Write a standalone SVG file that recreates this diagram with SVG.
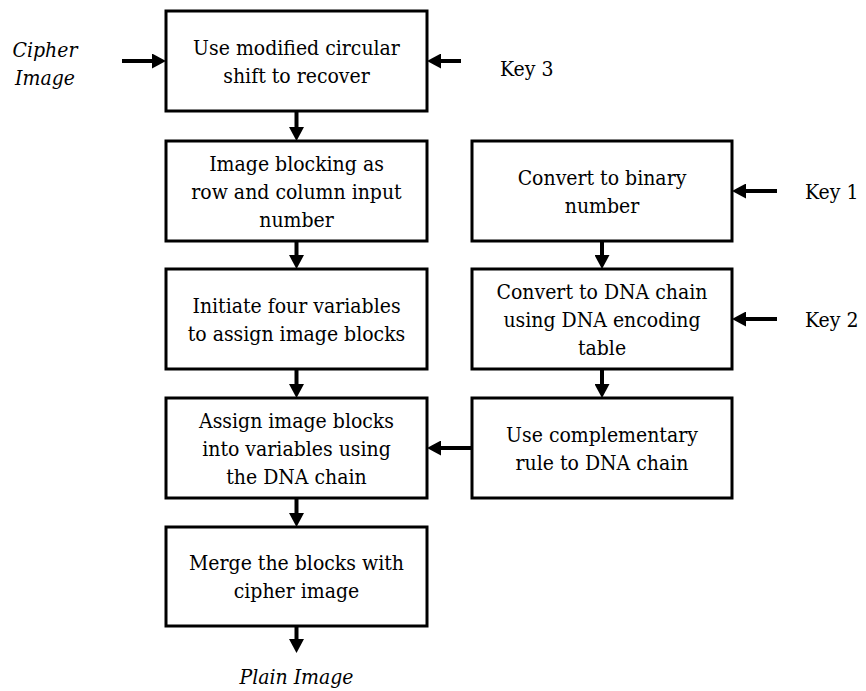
<svg xmlns="http://www.w3.org/2000/svg" width="866" height="691" viewBox="0 0 866 691" font-family="'DejaVu Serif Condensed','DejaVu Serif',serif" font-size="21">
<style>
.box{fill:#fff;stroke:#000;stroke-width:3}
.c{stroke:#000;stroke-width:4;fill:none;marker-end:url(#ah)}
</style>
<defs>
<marker id="ah" markerUnits="userSpaceOnUse" markerWidth="14" markerHeight="15" refX="2" refY="7.5" orient="auto">
<path d="M0,0 L14,7.5 L0,15 z" fill="#000"/>
</marker>
</defs>
<rect width="866" height="691" fill="#fff"/>
<g id="connectors">
<line class="c" x1="122" y1="61" x2="154" y2="61"/>
<line class="c" x1="461" y1="61" x2="439" y2="61"/>
<line class="c" x1="296.5" y1="111" x2="296.5" y2="129"/>
<line class="c" x1="296.5" y1="241" x2="296.5" y2="257"/>
<line class="c" x1="296.5" y1="369" x2="296.5" y2="386"/>
<line class="c" x1="296.5" y1="498" x2="296.5" y2="515"/>
<line class="c" x1="296.5" y1="626" x2="296.5" y2="641"/>
<line class="c" x1="602" y1="241" x2="602" y2="257"/>
<line class="c" x1="602" y1="369" x2="602" y2="386"/>
<line class="c" x1="777" y1="191" x2="744" y2="191"/>
<line class="c" x1="777" y1="319" x2="744" y2="319"/>
<line class="c" x1="472" y1="448" x2="439" y2="448"/>
</g>
<g id="cipher-image" font-style="italic" text-anchor="middle"><text x="45" y="57">Cipher</text><text x="45" y="85">Image</text></g>
<g id="key3"><text x="500" y="76">Key 3</text></g>
<g id="key1"><text x="805" y="199">Key 1</text></g>
<g id="key2"><text x="805" y="327">Key 2</text></g>
<g id="plain-image" font-style="italic" text-anchor="middle"><text x="296.5" y="684">Plain Image</text></g>
<g text-anchor="middle">
<g id="n1"><rect class="box" x="166" y="11" width="261" height="100"/><text x="296.5" y="55">Use modified circular</text><text x="296.5" y="83">shift to recover</text></g>
<g id="n2"><rect class="box" x="166" y="141" width="261" height="100"/><text x="296.5" y="171">Image blocking as</text><text x="296.5" y="199">row and column input</text><text x="296.5" y="227">number</text></g>
<g id="n3"><rect class="box" x="166" y="269" width="261" height="100"/><text x="296.5" y="313">Initiate four variables</text><text x="296.5" y="341">to assign image blocks</text></g>
<g id="n4"><rect class="box" x="166" y="398" width="261" height="100"/><text x="296.5" y="428">Assign image blocks</text><text x="296.5" y="456">into variables using</text><text x="296.5" y="484">the DNA chain</text></g>
<g id="n5"><rect class="box" x="166" y="527" width="261" height="99"/><text x="296.5" y="570">Merge the blocks with</text><text x="296.5" y="598">cipher image</text></g>
<g id="r1"><rect class="box" x="472" y="141" width="260" height="100"/><text x="602" y="185">Convert to binary</text><text x="602" y="213">number</text></g>
<g id="r2"><rect class="box" x="472" y="269" width="260" height="100"/><text x="602" y="299">Convert to DNA chain</text><text x="602" y="327">using DNA encoding</text><text x="602" y="355">table</text></g>
<g id="r3"><rect class="box" x="472" y="398" width="260" height="100"/><text x="602" y="442">Use complementary</text><text x="602" y="470">rule to DNA chain</text></g>
</g>
</svg>
